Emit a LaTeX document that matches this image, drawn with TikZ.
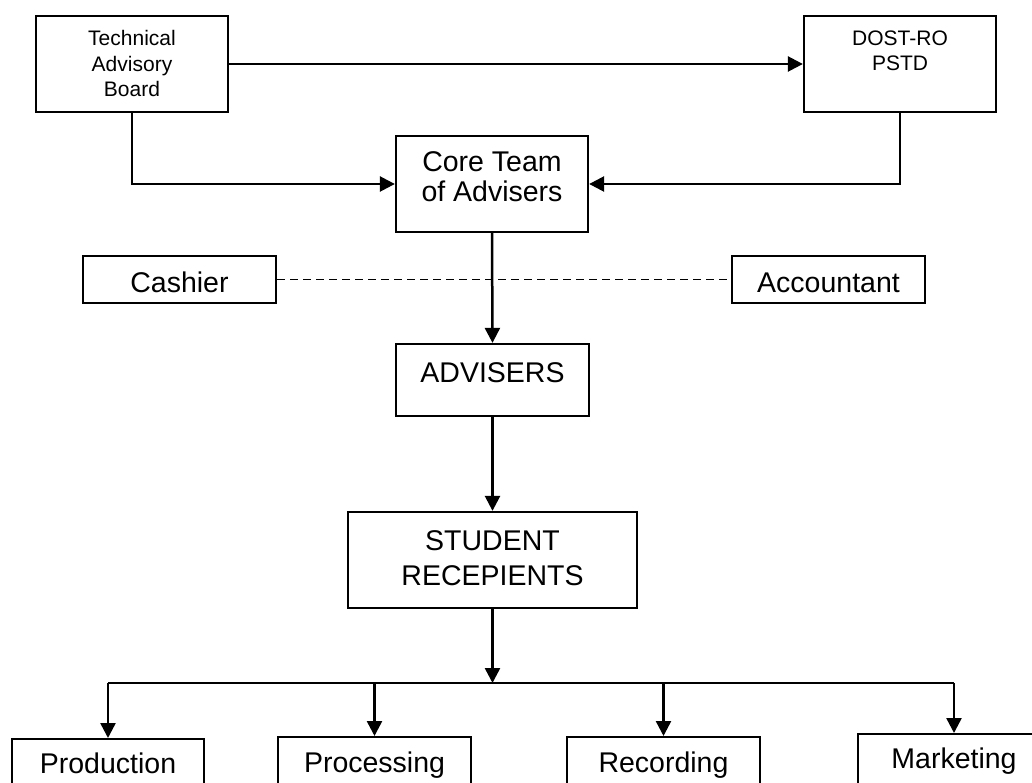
\documentclass[tikz,border=0pt]{standalone}
\usepackage{fontspec}
\setmainfont{Liberation Sans}
\usetikzlibrary{arrows.meta}
\begin{document}
\begin{tikzpicture}[x=1pt,y=-1pt,
  box/.style={draw,line width=2.3pt,inner sep=0pt,minimum width=#1},
  box/.default=192,
  big/.style={anchor=base,inner sep=0pt,font=\fontsize{28.5}{33}\selectfont},
  small/.style={anchor=base,inner sep=0pt,font=\fontsize{21}{25}\selectfont},
  link/.style={line width=2.5pt},
  arr/.style={link,-{Triangle[length=15pt,width=15pt]}},
  rel/.style={line width=1.6pt,dash pattern=on 8pt off 5pt}]
\useasboundingbox (0,0) rectangle (1032,783);
\clip (0,0) rectangle (1032,783);
\fill[white] (0,0) rectangle (1032,783);

% boxes
\node[box,minimum height=96] (tab) at (132,64) {};
\node[box,minimum height=96] (dost) at (900,64) {};
\node[box,minimum height=96] (core) at (492,184) {};
\node[box=193,minimum height=47] (cash) at (179.5,279.5) {};
\node[box=193,minimum height=47] (acc) at (828.5,279.5) {};
\node[box=193,minimum height=72] (adv) at (492.5,380) {};
\node[box=289,minimum height=96] (stu) at (492.5,560) {};
\node[box,minimum height=96,anchor=north] (prod) at (108,738) {};
\node[box=193,minimum height=96,anchor=north] (proc) at (374.5,736) {};
\node[box=193,minimum height=96,anchor=north] (rec) at (663.5,736) {};
\node[box,minimum height=96,anchor=north] (mkt) at (954,733) {};

% labels
\node[small] (tab1) at (132,46) {Technical};
\node[small] (tab2) at (132,72) {Advisory};
\node[small] (tab3) at (132,97) {Board};
\node[small] (dost1) at (900,46) {DOST-RO};
\node[small] (dost2) at (900,71) {PSTD};
\node[big] (core1) at (492,172) {Core Team};
\node[big] (core2) at (492,202) {of Advisers};
\node[big] (cash1) at (179.5,293) {Cashier};
\node[big] (acc1) at (828.5,293) {Accountant};
\node[big] (adv1) at (492.5,382) {ADVISERS};
\node[big] (stu1) at (492.5,550) {STUDENT};
\node[big] (stu2) at (492.5,585) {RECEPIENTS};
\node[big] (prod1) at (108,773) {Production};
\node[big] (proc1) at (374.5,772) {Processing};
\node[big] (rec1) at (663.5,772) {Recording};
\node[big] (mkt1) at (954,768) {Marketing};

% connectors
\draw[arr] (tab.east) -- (dost.west);
\draw[arr] (tab.south) |- (core.west);
\draw[arr] (dost.south) |- (core.east);
\draw[rel] (cash.east) -- (acc.west);
\draw[arr] (core.south) -- (adv.north);
\draw[arr] (adv.south) -- (stu.north);

\coordinate (bar) at (492.5,683);
\coordinate (barL) at (prod.north |- bar);
\coordinate (barR) at (mkt.north |- bar);
\draw[arr] (stu.south) -- (bar);
\draw[link] (barL) -- (barR);
\draw[arr] (barL) -- (prod.north);
\draw[arr] (proc.north |- bar) -- (proc.north);
\draw[arr] (rec.north |- bar) -- (rec.north);
\draw[arr] (barR) -- (mkt.north);
\end{tikzpicture}
\end{document}
